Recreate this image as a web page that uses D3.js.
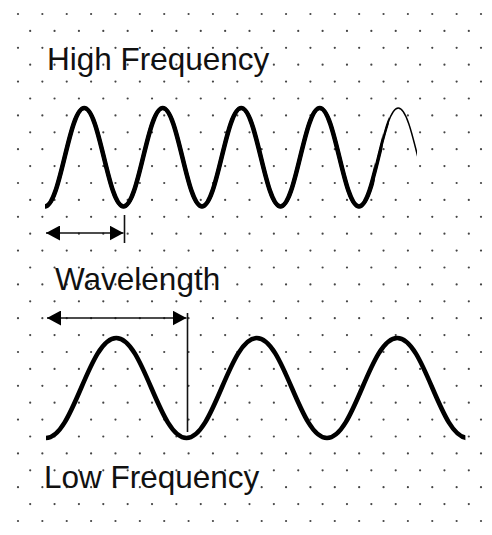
<!DOCTYPE html>
<html><head><meta charset="utf-8">
<script src="https://cdn.jsdelivr.net/npm/d3@7"></script>
<style>html,body{margin:0;padding:0;background:#fff;}svg{display:block;}</style>
</head><body>
<script>
// Wave extrema, in cycles (x) and amplitude (y)
const highX = [0, 0.5, 1, 1.5, 2, 2.5, 3, 3.5, 4, 4.5, 5];
const highY = [-1, 1, -1, 1, -1, 1, -1, 1, -1, 1, -1];
const highEnd = 4.74;      // where the drawn high-frequency wave stops (cycles)
const highFade = [4.2, 4.3, 4.38]; // where the stroke thins (cycles)
const lowX = [0, 0.5, 1, 1.5, 2, 2.5, 3];
const lowY = [-1, 1, -1, 1, -1, 1, -1];
const lowEnd = 2.985;
const labels = ["High Frequency", "Wavelength", "Low Frequency"];
const wavelengthSpan = [0, 1]; // one cycle

const W = 492, H = 535;
const svg = d3.select("body").append("svg").attr("width", W).attr("height", H);

// dotted background grid
const rowCount = 31, rowY = d3.scaleLinear().domain([0, rowCount - 1]).range([14, 521]);
const colX = d3.scaleLinear().domain([0, 19]).range([18, 481]);
const dots = [];
for (let r = 0; r < rowCount; r++) {
  const odd = r % 2 === 1;
  const n = odd ? 19 : 20;
  for (let c = 0; c < n; c++) dots.push([odd ? colX(c + 0.5) : colX(c), rowY(r)]);
}
svg.append("g").selectAll("circle").data(dots).join("circle")
  .attr("cx", d => d[0]).attr("cy", d => d[1]).attr("r", 1.1).attr("fill", "#444");

// scales
const xHigh = d3.scaleLinear().domain([0, 1]).range([45, 123.5]);
const yHigh = d3.scaleLinear().domain([-1, 1]).range([206.5, 108]);
const xLow = d3.scaleLinear().domain([0, 1]).range([46, 186.5]);
const yLow = d3.scaleLinear().domain([-1, 1]).range([438, 338]);

const highData = highX.map((x, i) => [x, highY[i]]);
const lowData = lowX.map((x, i) => [x, lowY[i]]);

// smooth wave through extrema: horizontal bezier handles at each extremum
function waveLine(xs, ys, data, k = 0.39) {
  const p = d3.path();
  data.forEach((d, i) => {
    const x = xs(d[0]), y = ys(d[1]);
    if (i === 0) { p.moveTo(x, y); return; }
    const x0 = xs(data[i - 1][0]), y0 = ys(data[i - 1][1]);
    const dx = x - x0;
    p.bezierCurveTo(x0 + k * dx, y0, x - k * dx, y, x, y);
  });
  return p.toString();
}

const defs = svg.append("defs");
function clip(id, x1) {
  defs.append("clipPath").attr("id", id).append("rect")
    .attr("x", 0).attr("y", 0).attr("width", x1).attr("height", H);
}
clip("cEnd", xHigh(highEnd));
clip("c1", xHigh(highFade[0]));
clip("c2", xHigh(highFade[1]));
clip("c3", xHigh(highFade[2]));
clip("cLow", xLow(lowEnd));

const hd = waveLine(xHigh, yHigh, highData);
const gEnd = svg.append("g").attr("clip-path", "url(#cEnd)");
gEnd.append("path").attr("d", hd).attr("fill", "none").attr("stroke", "#000").attr("stroke-width", 1.5);
[["c3", 2.5], ["c2", 3.5], ["c1", 4.6]].forEach(([id, w]) => {
  gEnd.append("path").attr("d", hd).attr("fill", "none").attr("clip-path", `url(#${id})`)
    .attr("stroke", "#000").attr("stroke-width", w);
});

svg.append("path").attr("d", waveLine(xLow, yLow, lowData)).attr("clip-path", "url(#cLow)")
  .attr("fill", "none").attr("stroke", "#000").attr("stroke-width", 4.6);

// arrowheads
const mk = defs.append("marker").attr("id", "ah").attr("viewBox", "0 0 14 15")
  .attr("refX", 14).attr("refY", 7.5).attr("markerWidth", 14).attr("markerHeight", 15)
  .attr("markerUnits", "userSpaceOnUse").attr("orient", "auto-start-reverse");
mk.append("path").attr("d", "M0,0L14,7.5L0,15Z").attr("fill", "#000");

function wavelength(xs, x1, x2, y, vTop, vBot) {
  svg.append("line").attr("x1", xs(x1) + 1).attr("x2", xs(x2)).attr("y1", y).attr("y2", y)
    .attr("stroke", "#111").attr("stroke-width", 1.6)
    .attr("marker-start", "url(#ah)").attr("marker-end", "url(#ah)");
  svg.append("line").attr("x1", xs(x2) + 1).attr("x2", xs(x2) + 1).attr("y1", vTop).attr("y2", vBot)
    .attr("stroke", "#111").attr("stroke-width", 1.6);
}
wavelength(xHigh, wavelengthSpan[0], wavelengthSpan[1], 233, 215, 243);
wavelength(xLow, wavelengthSpan[0], wavelengthSpan[1], 318, 313, 432);

// labels
const txt = [[labels[0], 47, 70], [labels[1], 55, 290], [labels[2], 44, 488]];
svg.append("g").selectAll("text").data(txt).join("text")
  .attr("x", d => d[1]).attr("y", d => d[2]).text(d => d[0])
  .attr("font-family", "Liberation Sans, Arial, sans-serif").attr("font-size", 31.5)
  .attr("fill", "#111");
</script>
</body></html>
